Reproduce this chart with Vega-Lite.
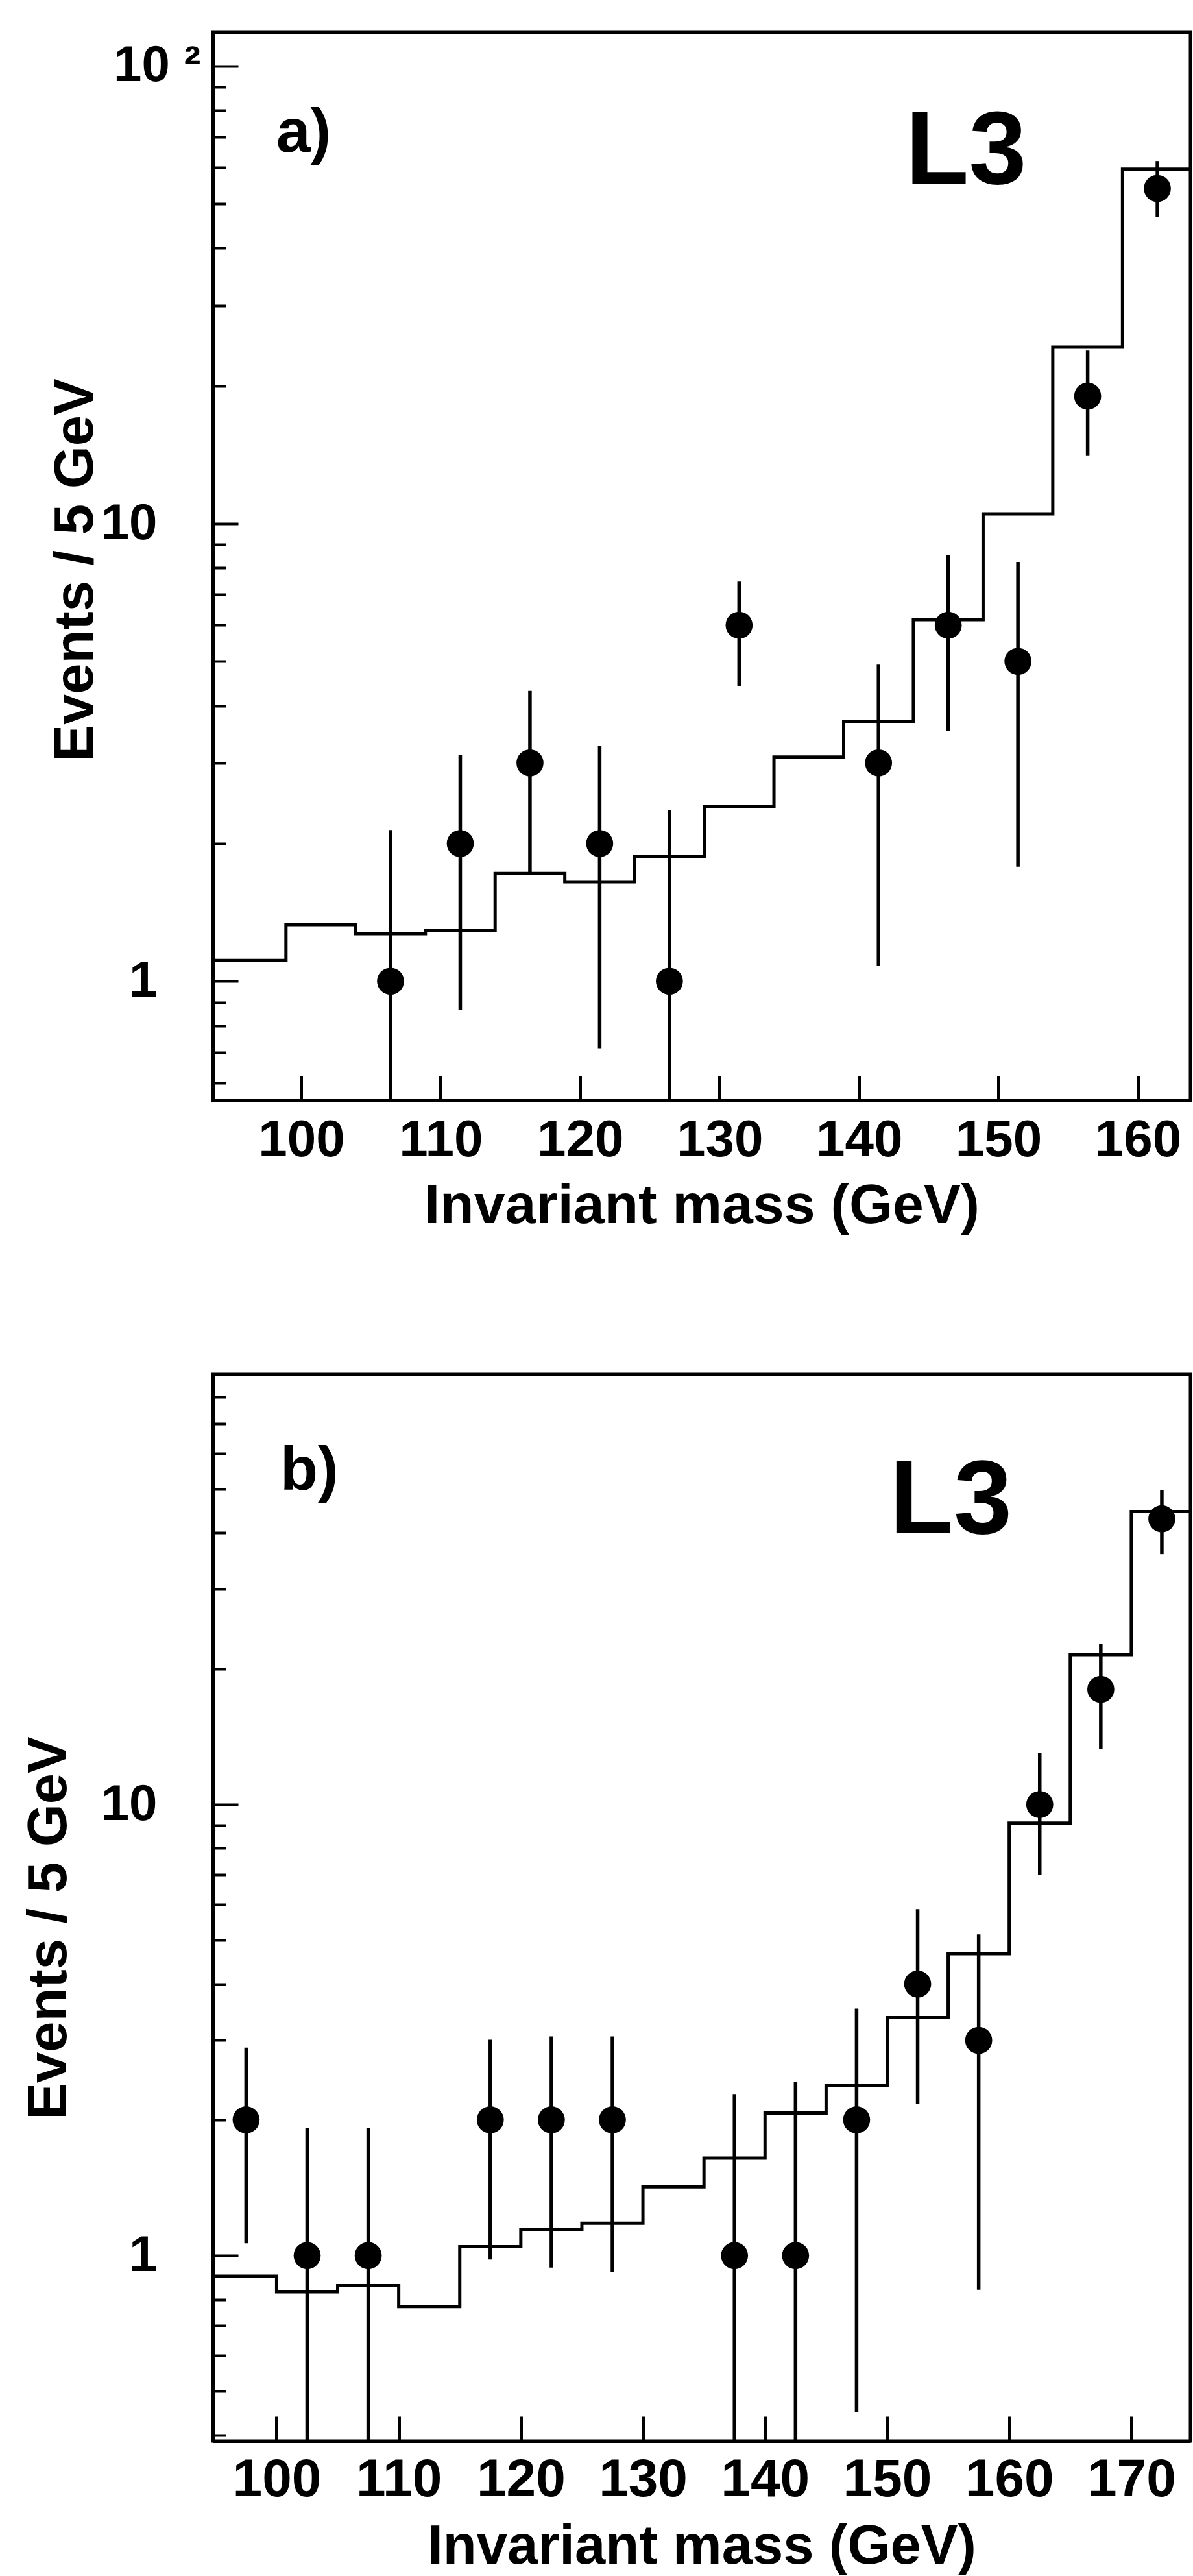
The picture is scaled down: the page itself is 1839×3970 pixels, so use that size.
{
  "$schema": "https://vega.github.io/schema/vega-lite/v6.json",
  "background": "white",
  "padding": {"left": 30, "top": 47, "right": 2, "bottom": 2},
  "spacing": 207,
  "config": {
    "view": {"stroke": "black", "strokeWidth": 5},
    "font": "Liberation Sans",
    "axis": {
      "grid": false,
      "domainColor": "black",
      "domainWidth": 5,
      "tickColor": "black",
      "tickWidth": 4,
      "labelColor": "black",
      "titleColor": "black",
      "labelFont": "Liberation Sans",
      "labelFontWeight": "bold",
      "titleFont": "Liberation Sans",
      "titleFontWeight": "bold",
      "labelOverlap": false,
      "labelFlush": false,
      "labelBound": false
    }
  },
  "vconcat": [
    {
      "width": 1507,
      "height": 1646,
      "encoding": {
        "x": {
          "field": "m",
          "type": "quantitative",
          "scale": {"domain": [93.65, 163.77], "nice": false, "zero": false},
          "axis": {
            "values": [100, 110, 120, 130, 140, 150, 160],
            "format": "d",
            "tickSize": -38,
            "tickWidth": 5,
            "labelFontSize": 80,
            "labelBaseline": "alphabetic",
            "labelPadding": 123,
            "title": "Invariant mass (GeV)",
            "titleFontSize": 86,
            "titleBaseline": "alphabetic",
            "titleY": 188
          }
        },
        "y": {
          "field": "n",
          "type": "quantitative",
          "scale": {"type": "log", "domain": [0.549, 118.4], "nice": false},
          "axis": {
            "values": [0.6, 0.7, 0.8, 0.9, 1, 2, 3, 4, 5, 6, 7, 8, 9, 10, 20, 30, 40, 50, 60, 70, 80, 90, 100],
            "tickSize": {"condition": {"test": "datum.value == 1 || datum.value == 10 || datum.value == 100", "value": -39}, "value": -20},
            "labelExpr": "datum.value == 100 ? '10 ²' : (datum.value == 10 ? '10' : (datum.value == 1 ? '1' : ''))",
            "labelFontSize": 78,
            "labelPadding": {"condition": {"test": "datum.value == 100", "value": 58}, "value": 125},
            "title": "Events / 5 GeV",
            "titleFontSize": 85,
            "titleAngle": 270,
            "titleBaseline": "alphabetic",
            "titleAlign": "center",
            "titleX": -186,
            "titleY": 828
          }
        }
      },
      "layer": [
        {
          "data": {"values": [
            {"m": 93.65, "n": 1.11}, {"m": 98.9, "n": 1.33}, {"m": 103.9, "n": 1.27},
            {"m": 108.9, "n": 1.29}, {"m": 113.9, "n": 1.72}, {"m": 118.9, "n": 1.65},
            {"m": 123.9, "n": 1.87}, {"m": 128.9, "n": 2.41}, {"m": 133.9, "n": 3.09},
            {"m": 138.9, "n": 3.69}, {"m": 143.9, "n": 6.17}, {"m": 148.9, "n": 10.5},
            {"m": 153.9, "n": 24.3}, {"m": 158.9, "n": 59.5}, {"m": 163.77, "n": 59.5}
          ]},
          "mark": {"type": "line", "interpolate": "step-after", "color": "black", "strokeWidth": 5, "clip": true}
        },
        {
          "data": {"values": [
            {"m": 106.4, "n": 1, "lo": 0.3, "hi": 2.14},
            {"m": 111.4, "n": 2, "lo": 0.865, "hi": 3.12},
            {"m": 116.4, "n": 3, "lo": 1.71, "hi": 4.31},
            {"m": 121.4, "n": 2, "lo": 0.714, "hi": 3.27},
            {"m": 126.4, "n": 1, "lo": 0.3, "hi": 2.37},
            {"m": 131.4, "n": 6, "lo": 4.42, "hi": 7.47},
            {"m": 141.4, "n": 3, "lo": 1.08, "hi": 4.92},
            {"m": 146.4, "n": 6, "lo": 3.53, "hi": 8.52},
            {"m": 151.4, "n": 5, "lo": 1.78, "hi": 8.25},
            {"m": 156.4, "n": 19, "lo": 14.1, "hi": 23.9},
            {"m": 161.4, "n": 54, "lo": 46.8, "hi": 62}
          ]},
          "layer": [
            {
              "mark": {"type": "rule", "color": "black", "strokeWidth": 5.5, "clip": true},
              "encoding": {
                "y": {"field": "lo", "type": "quantitative", "scale": {"type": "log", "domain": [0.549, 118.4], "nice": false}},
                "y2": {"field": "hi"}
              }
            },
            {
              "mark": {"type": "circle", "color": "black", "opacity": 1, "size": 1735}
            }
          ]
        },
        {
          "data": {"values": [{"m": 98.2, "n": 65.0, "t": "a)"}]},
          "mark": {"type": "text", "align": "left", "baseline": "alphabetic", "fontSize": 95, "fontWeight": "bold", "font": "Liberation Sans", "color": "black"},
          "encoding": {"text": {"field": "t"}}
        },
        {
          "data": {"values": [{"m": 147.68, "n": 55.4, "t": "L3"}]},
          "mark": {"type": "text", "align": "center", "baseline": "alphabetic", "fontSize": 160, "fontWeight": "bold", "font": "Liberation Sans", "color": "black"},
          "encoding": {"text": {"field": "t"}}
        }
      ]
    },
    {
      "width": 1507,
      "height": 1644,
      "encoding": {
        "x": {
          "field": "m",
          "type": "quantitative",
          "scale": {"domain": [94.77, 174.84], "nice": false, "zero": false},
          "axis": {
            "values": [100, 110, 120, 130, 140, 150, 160, 170],
            "format": "d",
            "tickSize": -38,
            "tickWidth": 5,
            "labelFontSize": 82,
            "labelBaseline": "alphabetic",
            "labelPadding": 122,
            "title": "Invariant mass (GeV)",
            "titleFontSize": 85,
            "titleBaseline": "alphabetic",
            "titleY": 188
          }
        },
        "y": {
          "field": "n",
          "type": "quantitative",
          "scale": {"type": "log", "domain": [0.388, 89.9], "nice": false},
          "axis": {
            "values": [0.4, 0.5, 0.6, 0.7, 0.8, 0.9, 1, 2, 3, 4, 5, 6, 7, 8, 9, 10, 20, 30, 40, 50, 60, 70, 80],
            "tickSize": {"condition": {"test": "datum.value == 1 || datum.value == 10", "value": -39}, "value": -20},
            "labelExpr": "datum.value == 10 ? '10' : (datum.value == 1 ? '1' : '')",
            "labelFontSize": 78,
            "labelPadding": 125,
            "title": "Events / 5 GeV",
            "titleFontSize": 85,
            "titleAngle": 270,
            "titleBaseline": "alphabetic",
            "titleAlign": "center",
            "titleX": -227,
            "titleY": 853
          }
        }
      },
      "layer": [
        {
          "data": {"values": [
            {"m": 94.77, "n": 0.9}, {"m": 100, "n": 0.831}, {"m": 105, "n": 0.858},
            {"m": 110, "n": 0.771}, {"m": 115, "n": 1.046}, {"m": 120, "n": 1.14},
            {"m": 125, "n": 1.18}, {"m": 130, "n": 1.42}, {"m": 135, "n": 1.644},
            {"m": 140, "n": 2.07}, {"m": 145, "n": 2.387}, {"m": 150, "n": 3.37},
            {"m": 155, "n": 4.67}, {"m": 160, "n": 9.09}, {"m": 165, "n": 21.5},
            {"m": 170, "n": 44.6}, {"m": 174.84, "n": 44.6}
          ]},
          "mark": {"type": "line", "interpolate": "step-after", "color": "black", "strokeWidth": 5, "clip": true}
        },
        {
          "data": {"values": [
            {"m": 97.5, "n": 2, "lo": 1.065, "hi": 2.89},
            {"m": 102.5, "n": 1, "lo": 0.2, "hi": 1.92},
            {"m": 107.5, "n": 1, "lo": 0.2, "hi": 1.92},
            {"m": 117.5, "n": 2, "lo": 0.98, "hi": 3.01},
            {"m": 122.5, "n": 2, "lo": 0.94, "hi": 3.06},
            {"m": 127.5, "n": 2, "lo": 0.92, "hi": 3.06},
            {"m": 137.5, "n": 1, "lo": 0.2, "hi": 2.28},
            {"m": 142.5, "n": 1, "lo": 0.2, "hi": 2.43},
            {"m": 147.5, "n": 2, "lo": 0.45, "hi": 3.53},
            {"m": 152.5, "n": 4, "lo": 2.17, "hi": 5.86},
            {"m": 157.5, "n": 3, "lo": 0.84, "hi": 5.15},
            {"m": 162.5, "n": 10, "lo": 6.98, "hi": 13.0},
            {"m": 167.5, "n": 18, "lo": 13.3, "hi": 22.7},
            {"m": 172.5, "n": 43, "lo": 35.9, "hi": 49.8}
          ]},
          "layer": [
            {
              "mark": {"type": "rule", "color": "black", "strokeWidth": 5.5, "clip": true},
              "encoding": {
                "y": {"field": "lo", "type": "quantitative", "scale": {"type": "log", "domain": [0.388, 89.9], "nice": false}},
                "y2": {"field": "hi"}
              }
            },
            {
              "mark": {"type": "circle", "color": "black", "opacity": 1, "size": 1735}
            }
          ]
        },
        {
          "data": {"values": [{"m": 100.3, "n": 49.9, "t": "b)"}]},
          "mark": {"type": "text", "align": "left", "baseline": "alphabetic", "fontSize": 95, "fontWeight": "bold", "font": "Liberation Sans", "color": "black"},
          "encoding": {"text": {"field": "t"}}
        },
        {
          "data": {"values": [{"m": 155.21, "n": 39.9, "t": "L3"}]},
          "mark": {"type": "text", "align": "center", "baseline": "alphabetic", "fontSize": 162, "fontWeight": "bold", "font": "Liberation Sans", "color": "black"},
          "encoding": {"text": {"field": "t"}}
        }
      ]
    }
  ]
}
